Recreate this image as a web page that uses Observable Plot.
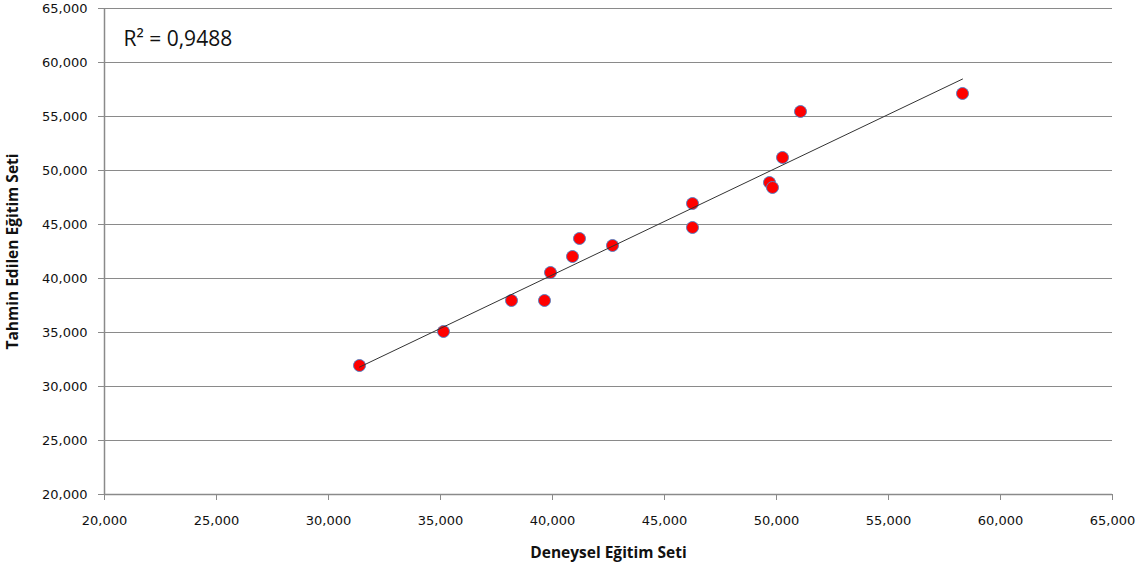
<!DOCTYPE html>
<html>
<head>
<meta charset="utf-8">
<script src="https://cdn.jsdelivr.net/npm/d3@7"></script>
<script src="https://cdn.jsdelivr.net/npm/@observablehq/plot@0.6"></script>
<style>
  html, body { margin: 0; padding: 0; background: #fff; }
  #chart svg { display: block; }
</style>
</head>
<body>
<div id="chart"></div>
<script>
// Data
const deneysel = [31384, 35134, 38170, 39643, 39911, 40893, 41205, 42679, 46250, 46250, 49687, 49821, 50268, 51071, 58304];
const tahmin   = [31944, 35093, 37963, 37963, 40556, 42037, 43704, 43056, 46944, 44722, 48889, 48426, 51204, 55463, 57130];
const xTicks = [20000, 25000, 30000, 35000, 40000, 45000, 50000, 55000, 60000, 65000];
const yTicks = [20000, 25000, 30000, 35000, 40000, 45000, 50000, 55000, 60000, 65000];
const xTitle = "Deneysel Eğitim Seti";
const yTitle = "Tahmin Edilen Eğitim Seti";
const r2Label = "R² = 0,9488";

const data = deneysel.map((d, i) => ({x: d, y: tahmin[i]}));
const fmt = d3.format(",");
const gray = "#8a8a8a";

const chart = Plot.plot({
  width: 1142,
  height: 569,
  marginLeft: 104,
  marginRight: 30,
  marginTop: 8,
  marginBottom: 75,
  style: {fontFamily: "DejaVu Sans, sans-serif", fontSize: "13px", color: "#000", background: "#fff"},
  x: {domain: [20000, 65000], ticks: xTicks},
  y: {domain: [20000, 65000], ticks: yTicks},
  marks: [
    Plot.gridY(yTicks, {stroke: gray, strokeOpacity: 1, strokeWidth: 1}),
    Plot.ruleX([20000], {stroke: gray, strokeWidth: 1.5}),
    Plot.ruleY([20000], {stroke: gray, strokeWidth: 1.5}),
    Plot.axisX(xTicks, {tickSize: 6, tickPadding: 15, stroke: gray, tickFormat: fmt, label: null, fill: "#111", fontSize: 13, fontFamily: "DejaVu Sans, sans-serif"}),
    Plot.axisY(yTicks, {tickSize: 6, tickPadding: 11, stroke: gray, tickFormat: fmt, label: null, fill: "#111", fontSize: 13, fontFamily: "DejaVu Sans, sans-serif"}),
    Plot.dot(data, {x: "x", y: "y", r: 6, fill: "#ff0000", stroke: "#5b7fc0", strokeWidth: 1}),
    Plot.linearRegressionY(data, {x: "x", y: "y", stroke: "#333", strokeWidth: 1, ci: 0}),
    Plot.text([r2Label], {frameAnchor: "top-left", dx: 19, dy: 31, textAnchor: "start", fontSize: 21, fontFamily: "Open Sans, sans-serif", fill: "#111", lineAnchor: "middle"}),
    Plot.text([xTitle], {frameAnchor: "bottom", dy: 59, textAnchor: "middle", fontSize: 15.5, fontWeight: "bold", fontFamily: "Open Sans, sans-serif", fill: "#111", lineAnchor: "middle"}),
    Plot.text([yTitle], {frameAnchor: "left", dx: -91, rotate: -90, textAnchor: "middle", fontSize: 15.5, fontWeight: "bold", fontFamily: "Open Sans, sans-serif", fill: "#111", lineAnchor: "middle"})
  ]
});
document.getElementById("chart").appendChild(chart);
</script>
</body>
</html>
